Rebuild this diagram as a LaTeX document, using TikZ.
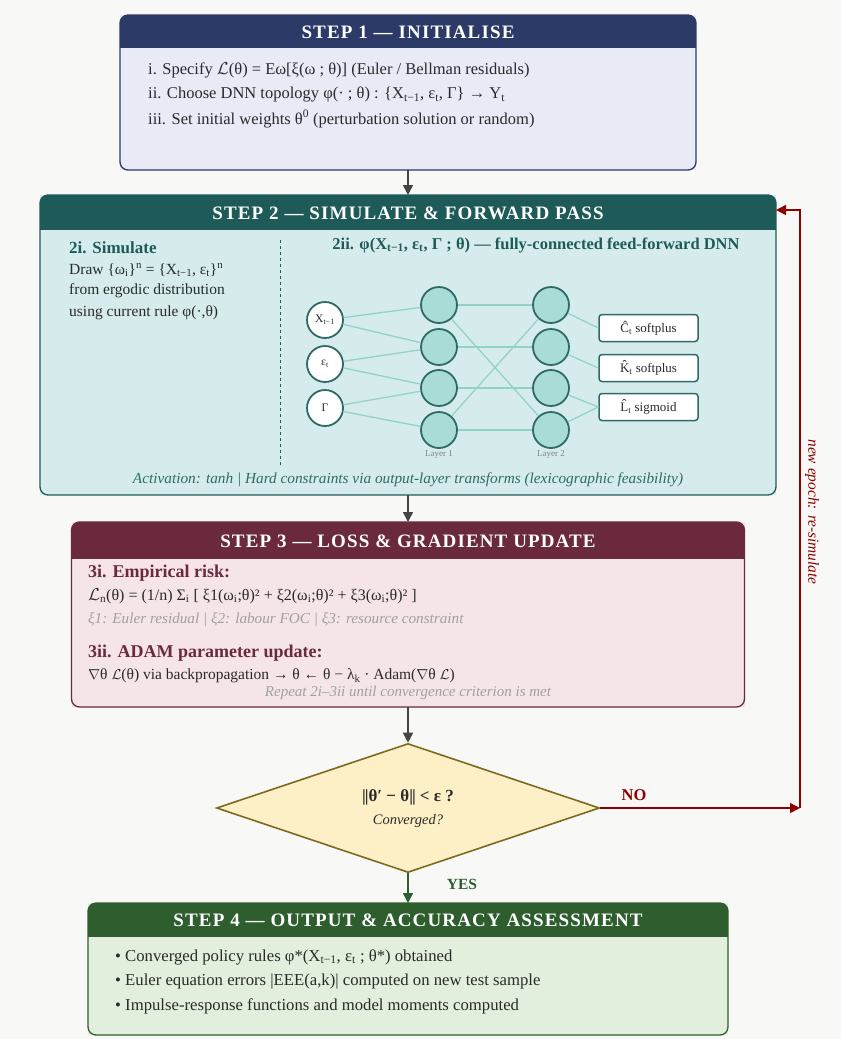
\documentclass[tikz,border=0pt]{standalone}
\usepackage{fontspec}
\setmainfont{Liberation Serif}
\newfontfamily\titlefont[LetterSpace=6]{Liberation Serif}
\usetikzlibrary{arrows.meta,shapes.geometric}

\definecolor{bgcol}{HTML}{F8F8F6}
\definecolor{inihead}{HTML}{2B3A67}
\definecolor{inifill}{HTML}{E8EAF6}
\definecolor{simhead}{HTML}{1E5B58}
\definecolor{simfill}{HTML}{D6ECEC}
\definecolor{losshead}{HTML}{6B2A3B}
\definecolor{lossfill}{HTML}{F6E5E8}
\definecolor{outhead}{HTML}{2E5E2D}
\definecolor{outfill}{HTML}{E2EFDD}
\definecolor{diafill}{HTML}{FDF0C6}
\definecolor{diabrd}{HTML}{7D6A1E}
\definecolor{nored}{HTML}{8B0000}
\definecolor{flowgray}{HTML}{444444}
\definecolor{netdark}{HTML}{2E6B66}
\definecolor{netfill}{HTML}{A9DCD5}
\definecolor{wirecol}{HTML}{92D3C9}
\definecolor{txtdark}{HTML}{2A2A2A}
\definecolor{notegray}{HTML}{A0A0A0}

\begin{document}
\begin{tikzpicture}[x=1pt, y=1pt,
  stepbox/.style={rectangle, outer sep=0pt, inner sep=0pt},
  steptitle/.style={text=white, font=\titlefont\bfseries\fontsize{19}{21}\selectfont},
  txt/.style={anchor=west, inner sep=0pt, text=txtdark, font=\fontsize{16.5}{18}\selectfont},
  flow/.style={draw=flowgray, line width=1.5pt, -{Triangle[length=10pt,width=10pt]}},
  neuron/.style={circle, minimum size=36pt, inner sep=0pt, draw=netdark, line width=1.8pt, fill=netfill},
  innode/.style={neuron, fill=white, text=txtdark, font=\fontsize{11.5}{13}\selectfont},
  outbox/.style={rectangle, rounded corners=3pt, draw=netdark, line width=1.5pt, fill=white,
    minimum width=99pt, minimum height=27pt, text=txtdark, font=\fontsize{13}{15}\selectfont},
  wire/.style={draw=wirecol, line width=1.3pt},
]

% background and page size
\fill[bgcol] (0,0) rectangle (841,-1039);
\useasboundingbox (0,0) rectangle (841,-1039);

% Step 1 box
\node[stepbox, fill=inifill, minimum width=576pt, minimum height=155pt] (s1) at (408,-92.5) {};
\begin{scope}
  \clip[rounded corners=8pt] (s1.north west) rectangle (s1.south east);
  \fill[inihead] (s1.north west) rectangle ([yshift=-33pt]s1.north east);
\end{scope}
\draw[inihead, line width=1.3pt, rounded corners=8pt] (s1.north west) rectangle (s1.south east);
\node[steptitle] at ([yshift=-17pt]s1.north) {STEP 1 — INITIALISE};
\node[txt] at (148,-70) {i. Specify $\mathcal{L}$(θ) = Eω[ξ(ω ; θ)] (Euler / Bellman residuals)};
\node[txt] at (148,-95) {ii. Choose DNN topology φ(· ; θ) : \{X\textsubscript{t−1}, ε\textsubscript{t}, Γ\} → Y\textsubscript{t}};
\node[txt] at (148,-119) {iii. Set initial weights θ\textsuperscript{0} (perturbation solution or random)};

% Step 2 box
\node[stepbox, fill=simfill, minimum width=736pt, minimum height=300pt] (s2) at (408,-345) {};
\begin{scope}
  \clip[rounded corners=8pt] (s2.north west) rectangle (s2.south east);
  \fill[simhead] (s2.north west) rectangle ([yshift=-35pt]s2.north east);
\end{scope}
\draw[simhead, line width=1.3pt, rounded corners=8pt] (s2.north west) rectangle (s2.south east);
\node[steptitle] at ([yshift=-18pt]s2.north) {STEP 2 — SIMULATE \& FORWARD PASS};

% 2i simulate
\node[txt, text=simhead, font=\bfseries\fontsize{17}{19}\selectfont] at (69,-248) {2i. Simulate};
\node[txt, font=\fontsize{15.5}{17}\selectfont] at (69,-270) {Draw \{ω\textsubscript{i}\}\textsuperscript{n} = \{X\textsubscript{t−1}, ε\textsubscript{t}\}\textsuperscript{n}};
\node[txt, font=\fontsize{15.5}{17}\selectfont] at (69,-291) {from ergodic distribution};
\node[txt, font=\fontsize{15.5}{17}\selectfont] at (69,-313) {using current rule φ(·,θ)};
\draw[simhead, line width=1pt, dashed] (280,-240) -- (280,-466);

% 2ii network
\node[text=simhead, font=\bfseries\fontsize{16.5}{18}\selectfont] at (536,-245)
  {2ii. φ(X\textsubscript{t−1}, ε\textsubscript{t}, Γ ; θ) — fully-connected feed-forward DNN};
\foreach \i/\y in {1/305, 2/347, 3/388, 4/430} {
  \node[neuron] (h\i) at (439,-\y) {};
  \node[neuron] (g\i) at (551,-\y) {};
}
\node[text=gray, font=\fontsize{9}{11}\selectfont] at (439,-454) {Layer 1};
\node[text=gray, font=\fontsize{9}{11}\selectfont] at (551,-454) {Layer 2};
\node[innode] (x1) at (325,-320) {X\textsubscript{t−1}};
\node[innode] (x2) at (325,-364) {ε\textsubscript{t}};
\node[innode] (x3) at (325,-408) {Γ};
\node[outbox] (o1) at (648.5,-328) {Ĉ\textsubscript{t} softplus};
\node[outbox] (o2) at (648.5,-368) {\^{K}\textsubscript{t} softplus};
\node[outbox] (o3) at (648.5,-407) {\^{L}\textsubscript{t} sigmoid};
\foreach \a/\b in {x1/h1, x1/h2, x2/h2, x2/h3, x3/h3, x3/h4,
                   h1/g1, h2/g2, h3/g3, h4/g4, h1/g4, h4/g1}
  \draw[wire] (\a) -- (\b);
\foreach \a/\b in {g1/o1, g2/o2, g3/o3, g4/o3}
  \draw[wire] (\a) -- (\b.west);
\node[text=netdark, font=\itshape\fontsize{15.3}{17}\selectfont] at (408,-480)
  {Activation: tanh | Hard constraints via output-layer transforms (lexicographic feasibility)};

% Step 3 box
\node[stepbox, fill=lossfill, minimum width=673pt, minimum height=185pt] (s3) at (408,-614.5) {};
\begin{scope}
  \clip[rounded corners=8pt] (s3.north west) rectangle (s3.south east);
  \fill[losshead] (s3.north west) rectangle ([yshift=-37pt]s3.north east);
\end{scope}
\draw[losshead, line width=1.3pt, rounded corners=8pt] (s3.north west) rectangle (s3.south east);
\node[steptitle] at ([yshift=-19pt]s3.north) {STEP 3 — LOSS \& GRADIENT UPDATE};
\node[txt, text=losshead, font=\bfseries\fontsize{18}{20}\selectfont] at (88,-573) {3i. Empirical risk:};
\node[txt, font=\fontsize{16}{18}\selectfont] at (88,-596)
  {$\mathcal{L}$\textsubscript{n}(θ) = (1/n) Σ\textsubscript{i} [ ξ1(ω\textsubscript{i};θ)² + ξ2(ω\textsubscript{i};θ)² + ξ3(ω\textsubscript{i};θ)² ]};
\node[txt, text=notegray, font=\itshape\fontsize{15.2}{17}\selectfont] at (88,-620)
  {ξ1: Euler residual | ξ2: labour FOC | ξ3: resource constraint};
\node[txt, text=losshead, font=\bfseries\fontsize{18}{20}\selectfont] at (88,-653) {3ii. ADAM parameter update:};
\node[txt, font=\fontsize{15.5}{17}\selectfont] at (88,-676)
  {$\nabla$θ $\mathcal{L}$(θ) via backpropagation → θ ← θ − λ\textsubscript{k} · Adam($\nabla$θ $\mathcal{L}$)};
\node[text=notegray, font=\itshape\fontsize{15}{17}\selectfont] at (408,-693)
  {Repeat 2i–3ii until convergence criterion is met};

% convergence test
\node[diamond, aspect=2.97, draw=diabrd, fill=diafill, line width=1.6pt,
      minimum width=383pt, minimum height=129pt, inner sep=0pt] (conv) at (408,-808) {};
\node[text=txtdark, font=\bfseries\fontsize{17}{19}\selectfont] at (408,-797) {|\kern-1pt|θ′ − θ|\kern-1pt| < ε ?};
\node[text=txtdark, font=\itshape\fontsize{14.5}{16}\selectfont] at (408,-821) {Converged?};

% Step 4 box
\node[stepbox, fill=outfill, minimum width=640pt, minimum height=132pt] (s4) at (408,-969) {};
\begin{scope}
  \clip[rounded corners=8pt] (s4.north west) rectangle (s4.south east);
  \fill[outhead] (s4.north west) rectangle ([yshift=-34pt]s4.north east);
\end{scope}
\draw[outhead, line width=1.3pt, rounded corners=8pt] (s4.north west) rectangle (s4.south east);
\node[steptitle] at ([yshift=-17pt]s4.north) {STEP 4 — OUTPUT \& ACCURACY ASSESSMENT};
\node[txt, font=\fontsize{16.7}{18}\selectfont] at (115,-957) {• Converged policy rules φ*(X\textsubscript{t−1}, ε\textsubscript{t} ; θ*) obtained};
\node[txt, font=\fontsize{16.7}{18}\selectfont] at (115,-981) {• Euler equation errors |EEE(a,k)| computed on new test sample};
\node[txt, font=\fontsize{16.7}{18}\selectfont] at (115,-1006) {• Impulse-response functions and model moments computed};

% main flow
\draw[flow] (s1.south) -- (s2.north);
\draw[flow] (s2.south) -- (s3.north);
\draw[flow] (s3.south) -- (conv.north);
\draw[flow, draw=outhead] (conv.south) -- (s4.north);
\node[text=outhead, font=\bfseries\fontsize{15.5}{17}\selectfont] at (462,-884) {YES};

% loop back
\coordinate (turn) at (800,-808);
\draw[flow, draw=nored] (conv.east) -- (turn);
\draw[flow, draw=nored] (turn) |- ([yshift=-15pt]s2.north east);
\node[text=nored, font=\bfseries\fontsize{16.5}{18}\selectfont] at (634,-795) {NO};
\node[rotate=-90, text=nored, font=\itshape\fontsize{15.4}{17}\selectfont] at (812,-512) {new epoch: re-simulate};

\end{tikzpicture}
\end{document}
